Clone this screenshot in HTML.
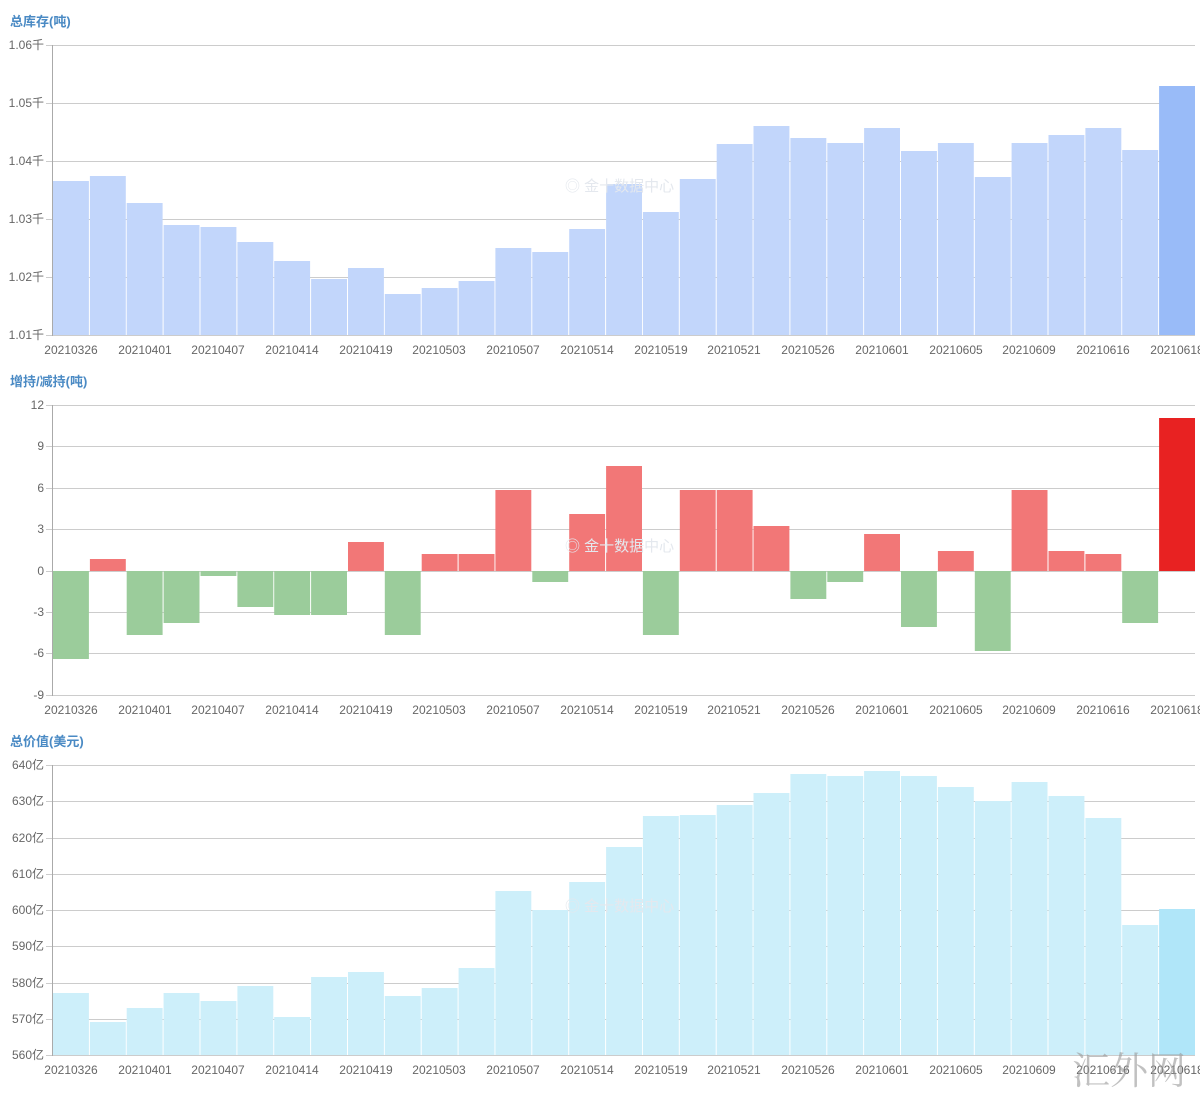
<!DOCTYPE html>
<html><head><meta charset="utf-8"><style>
html,body{margin:0;padding:0;background:#fff;}
svg{display:block;font-family:"Liberation Sans","Noto Sans CJK SC",sans-serif;}
.t{font-size:13px;font-weight:bold;fill:#4a8ac4;}
.y{font-size:12px;fill:#666;text-anchor:end;}
.x{font-size:12px;fill:#666;text-anchor:middle;}
.g{stroke:#ccc;stroke-width:1;}
.a{stroke:#aaa;stroke-width:1;}
.b1 rect{fill:#c2d6fb;}
.r{fill:#f27777;} .n{fill:#9bcc9b;}
.b3 rect{fill:#cdeffa;}
.w{font-size:15px;fill:#e4e8ee;}
</style></head><body>
<svg width="1200" height="1100" viewBox="0 0 1200 1100">
<!-- Chart 1 -->
<text class="t" x="10" y="26">总库存(吨)</text>
<g class="g"><line x1="46" y1="45.5" x2="1195" y2="45.5"/><line x1="46" y1="103.5" x2="1195" y2="103.5"/><line x1="46" y1="161.5" x2="1195" y2="161.5"/><line x1="46" y1="219.5" x2="1195" y2="219.5"/><line x1="46" y1="277.5" x2="1195" y2="277.5"/><line x1="46" y1="335.5" x2="1195" y2="335.5"/></g>
<g class="y"><text x="44" y="49">1.06千</text><text x="44" y="107">1.05千</text><text x="44" y="165">1.04千</text><text x="44" y="223">1.03千</text><text x="44" y="281">1.02千</text><text x="44" y="339">1.01千</text></g>
<g class="b1">
<rect x="53.0" y="181" width="35.9" height="154"/><rect x="89.9" y="176" width="35.9" height="159"/><rect x="126.7" y="203" width="35.9" height="132"/><rect x="163.6" y="225" width="35.9" height="110"/><rect x="200.5" y="227" width="35.9" height="108"/><rect x="237.4" y="242" width="35.9" height="93"/><rect x="274.2" y="261" width="35.9" height="74"/><rect x="311.1" y="279" width="35.9" height="56"/><rect x="348.0" y="268" width="35.9" height="67"/><rect x="384.8" y="294" width="35.9" height="41"/><rect x="421.7" y="288" width="35.9" height="47"/><rect x="458.6" y="281" width="35.9" height="54"/><rect x="495.4" y="248" width="35.9" height="87"/><rect x="532.3" y="252" width="35.9" height="83"/><rect x="569.2" y="229" width="35.9" height="106"/><rect x="606.1" y="184" width="35.9" height="151"/><rect x="642.9" y="212" width="35.9" height="123"/><rect x="679.8" y="179" width="35.9" height="156"/><rect x="716.7" y="144" width="35.9" height="191"/><rect x="753.5" y="126" width="35.9" height="209"/><rect x="790.4" y="138" width="35.9" height="197"/><rect x="827.3" y="143" width="35.9" height="192"/><rect x="864.1" y="128" width="35.9" height="207"/><rect x="901.0" y="151" width="35.9" height="184"/><rect x="937.9" y="143" width="35.9" height="192"/><rect x="974.8" y="177" width="35.9" height="158"/><rect x="1011.6" y="143" width="35.9" height="192"/><rect x="1048.5" y="135" width="35.9" height="200"/><rect x="1085.4" y="128" width="35.9" height="207"/><rect x="1122.2" y="150" width="35.9" height="185"/><rect x="1159.1" y="86" width="35.9" height="249" style="fill:#99bbf8"/>
</g>
<line class="a" x1="52.5" y1="45" x2="52.5" y2="336"/>
<text class="w" x="565" y="191">◎ 金十数据中心</text>
<g class="x"><text x="71" y="354">20210326</text><text x="145" y="354">20210401</text><text x="218" y="354">20210407</text><text x="292" y="354">20210414</text><text x="366" y="354">20210419</text><text x="439" y="354">20210503</text><text x="513" y="354">20210507</text><text x="587" y="354">20210514</text><text x="661" y="354">20210519</text><text x="734" y="354">20210521</text><text x="808" y="354">20210526</text><text x="882" y="354">20210601</text><text x="956" y="354">20210605</text><text x="1029" y="354">20210609</text><text x="1103" y="354">20210616</text><text x="1177" y="354">20210618</text></g>

<!-- Chart 2 -->
<text class="t" x="10" y="386">增持/减持(吨)</text>
<g class="g"><line x1="46" y1="405.5" x2="1195" y2="405.5"/><line x1="46" y1="446.5" x2="1195" y2="446.5"/><line x1="46" y1="488.5" x2="1195" y2="488.5"/><line x1="46" y1="529.5" x2="1195" y2="529.5"/><line x1="46" y1="571.5" x2="1195" y2="571.5"/><line x1="46" y1="612.5" x2="1195" y2="612.5"/><line x1="46" y1="653.5" x2="1195" y2="653.5"/><line x1="46" y1="695.5" x2="1195" y2="695.5"/></g>
<g class="y"><text x="44" y="409">12</text><text x="44" y="450">9</text><text x="44" y="492">6</text><text x="44" y="533">3</text><text x="44" y="575">0</text><text x="44" y="616">-3</text><text x="44" y="657">-6</text><text x="44" y="699">-9</text></g>
<g>
<rect class="n" x="53.0" y="571" width="35.9" height="88"/>
<rect class="r" x="89.9" y="559" width="35.9" height="12"/>
<rect class="n" x="126.7" y="571" width="35.9" height="64"/>
<rect class="n" x="163.6" y="571" width="35.9" height="52"/>
<rect class="n" x="200.5" y="571" width="35.9" height="5"/>
<rect class="n" x="237.4" y="571" width="35.9" height="36"/>
<rect class="n" x="274.2" y="571" width="35.9" height="44"/>
<rect class="n" x="311.1" y="571" width="35.9" height="44"/>
<rect class="r" x="348.0" y="542" width="35.9" height="29"/>
<rect class="n" x="384.8" y="571" width="35.9" height="64"/>
<rect class="r" x="421.7" y="554" width="35.9" height="17"/>
<rect class="r" x="458.6" y="554" width="35.9" height="17"/>
<rect class="r" x="495.4" y="490" width="35.9" height="81"/>
<rect class="n" x="532.3" y="571" width="35.9" height="11"/>
<rect class="r" x="569.2" y="514" width="35.9" height="57"/>
<rect class="r" x="606.1" y="466" width="35.9" height="105"/>
<rect class="n" x="642.9" y="571" width="35.9" height="64"/>
<rect class="r" x="679.8" y="490" width="35.9" height="81"/>
<rect class="r" x="716.7" y="490" width="35.9" height="81"/>
<rect class="r" x="753.5" y="526" width="35.9" height="45"/>
<rect class="n" x="790.4" y="571" width="35.9" height="28"/>
<rect class="n" x="827.3" y="571" width="35.9" height="11"/>
<rect class="r" x="864.1" y="534" width="35.9" height="37"/>
<rect class="n" x="901.0" y="571" width="35.9" height="56"/>
<rect class="r" x="937.9" y="551" width="35.9" height="20"/>
<rect class="n" x="974.8" y="571" width="35.9" height="80"/>
<rect class="r" x="1011.6" y="490" width="35.9" height="81"/>
<rect class="r" x="1048.5" y="551" width="35.9" height="20"/>
<rect class="r" x="1085.4" y="554" width="35.9" height="17"/>
<rect class="n" x="1122.2" y="571" width="35.9" height="52"/>
<rect x="1159.1" y="418" width="35.9" height="153" fill="#e82222"/>
</g>
<line class="a" x1="52.5" y1="405" x2="52.5" y2="696"/>
<text class="w" x="565" y="551">◎ 金十数据中心</text>
<g class="x"><text x="71" y="714">20210326</text><text x="145" y="714">20210401</text><text x="218" y="714">20210407</text><text x="292" y="714">20210414</text><text x="366" y="714">20210419</text><text x="439" y="714">20210503</text><text x="513" y="714">20210507</text><text x="587" y="714">20210514</text><text x="661" y="714">20210519</text><text x="734" y="714">20210521</text><text x="808" y="714">20210526</text><text x="882" y="714">20210601</text><text x="956" y="714">20210605</text><text x="1029" y="714">20210609</text><text x="1103" y="714">20210616</text><text x="1177" y="714">20210618</text></g>

<!-- Chart 3 -->
<text class="t" x="10" y="746">总价值(美元)</text>
<g class="g"><line x1="46" y1="765.5" x2="1195" y2="765.5"/><line x1="46" y1="801.5" x2="1195" y2="801.5"/><line x1="46" y1="838.5" x2="1195" y2="838.5"/><line x1="46" y1="874.5" x2="1195" y2="874.5"/><line x1="46" y1="910.5" x2="1195" y2="910.5"/><line x1="46" y1="946.5" x2="1195" y2="946.5"/><line x1="46" y1="983.5" x2="1195" y2="983.5"/><line x1="46" y1="1019.5" x2="1195" y2="1019.5"/><line x1="46" y1="1055.5" x2="1195" y2="1055.5"/></g>
<g class="y"><text x="44" y="769">640亿</text><text x="44" y="805">630亿</text><text x="44" y="842">620亿</text><text x="44" y="878">610亿</text><text x="44" y="914">600亿</text><text x="44" y="950">590亿</text><text x="44" y="987">580亿</text><text x="44" y="1023">570亿</text><text x="44" y="1059">560亿</text></g>
<g class="b3">
<rect x="53.0" y="993" width="35.9" height="62"/><rect x="89.9" y="1022" width="35.9" height="33"/><rect x="126.7" y="1008" width="35.9" height="47"/><rect x="163.6" y="993" width="35.9" height="62"/><rect x="200.5" y="1001" width="35.9" height="54"/><rect x="237.4" y="986" width="35.9" height="69"/><rect x="274.2" y="1017" width="35.9" height="38"/><rect x="311.1" y="977" width="35.9" height="78"/><rect x="348.0" y="972" width="35.9" height="83"/><rect x="384.8" y="996" width="35.9" height="59"/><rect x="421.7" y="988" width="35.9" height="67"/><rect x="458.6" y="968" width="35.9" height="87"/><rect x="495.4" y="891" width="35.9" height="164"/><rect x="532.3" y="910" width="35.9" height="145"/><rect x="569.2" y="882" width="35.9" height="173"/><rect x="606.1" y="847" width="35.9" height="208"/><rect x="642.9" y="816" width="35.9" height="239"/><rect x="679.8" y="815" width="35.9" height="240"/><rect x="716.7" y="805" width="35.9" height="250"/><rect x="753.5" y="793" width="35.9" height="262"/><rect x="790.4" y="774" width="35.9" height="281"/><rect x="827.3" y="776" width="35.9" height="279"/><rect x="864.1" y="771" width="35.9" height="284"/><rect x="901.0" y="776" width="35.9" height="279"/><rect x="937.9" y="787" width="35.9" height="268"/><rect x="974.8" y="801" width="35.9" height="254"/><rect x="1011.6" y="782" width="35.9" height="273"/><rect x="1048.5" y="796" width="35.9" height="259"/><rect x="1085.4" y="818" width="35.9" height="237"/><rect x="1122.2" y="925" width="35.9" height="130"/><rect x="1159.1" y="909" width="35.9" height="146" style="fill:#b0e6f9"/>
</g>
<line class="a" x1="52.5" y1="765" x2="52.5" y2="1056"/>
<text class="w" x="565" y="911">◎ 金十数据中心</text>
<g class="x"><text x="71" y="1074">20210326</text><text x="145" y="1074">20210401</text><text x="218" y="1074">20210407</text><text x="292" y="1074">20210414</text><text x="366" y="1074">20210419</text><text x="439" y="1074">20210503</text><text x="513" y="1074">20210507</text><text x="587" y="1074">20210514</text><text x="661" y="1074">20210519</text><text x="734" y="1074">20210521</text><text x="808" y="1074">20210526</text><text x="882" y="1074">20210601</text><text x="956" y="1074">20210605</text><text x="1029" y="1074">20210609</text><text x="1103" y="1074">20210616</text><text x="1177" y="1074">20210618</text></g>
<text x="1072" y="1084" style="font-family:'Noto Serif CJK SC',serif;font-size:38px;fill:#999;opacity:0.6">汇外网</text>
</svg>
</body></html>
